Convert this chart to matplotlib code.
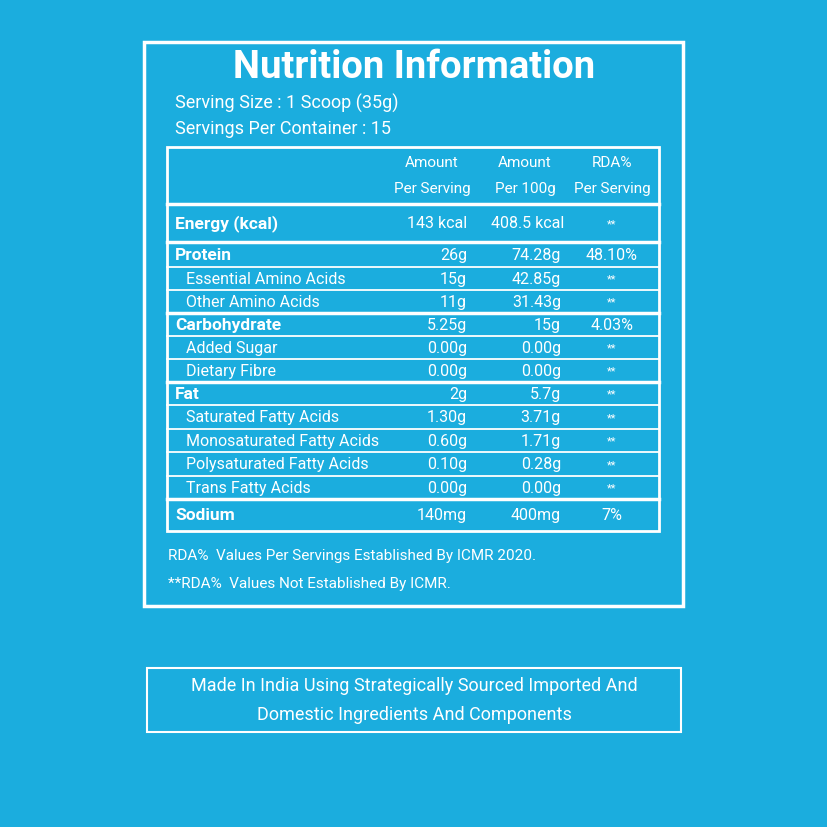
import matplotlib
matplotlib.use("Agg")
import matplotlib.pyplot as plt

BG = "#1badde"
plt.rcParams["font.family"] = ["Liberation Sans Narrow", "Roboto", "DejaVu Sans"]

labels = ["Protein", "Essential Amino Acids", "Other Amino Acids", "Carbohydrate",
          "Added Sugar", "Dietary Fibre", "Fat", "Saturated Fatty Acids",
          "Monosaturated Fatty Acids", "Polysaturated Fatty Acids", "Trans Fatty Acids", "Sodium"]
is_main = [True, False, False, True, False, False, True, False, False, False, False, True]
per_serving = ["26g", "15g", "11g", "5.25g", "0.00g", "0.00g", "2g", "1.30g", "0.60g", "0.10g", "0.00g", "140mg"]
per_100g = ["74.28g", "42.85g", "31.43g", "15g", "0.00g", "0.00g", "5.7g", "3.71g", "1.71g", "0.28g", "0.00g", "400mg"]
rda = ["48.10%", "**", "**", "4.03%", "**", "**", "**", "**", "**", "**", "**", "7%"]
row_edges = [243, 268, 291, 314, 337, 360, 383, 406, 430, 453, 477, 500, 532]

fig = plt.figure(figsize=(8.28, 8.28), dpi=100)
fig.patch.set_facecolor(BG)
ax = fig.add_axes([0, 0, 1, 1])
ax.set_xlim(0, 828)
ax.set_ylim(828, 0)
ax.axis("off")
ax.set_facecolor(BG)

W = "white"
ax.add_patch(plt.Rectangle((144, 43), 539, 564, fill=False, ec=W, lw=2.5))
ax.add_patch(plt.Rectangle((167, 148), 492, 384, fill=False, ec=W, lw=2))
ax.add_patch(plt.Rectangle((147, 669), 534, 64, fill=False, ec=W, lw=1.5))

ax.text(414, 68, "Nutrition Information", color=W, fontsize=27.5, weight="bold", ha="center", va="center")
ax.text(175, 103, "Serving Size : 1 Scoop (35g)", color=W, fontsize=13, ha="left", va="center")
ax.text(175, 129, "Servings Per Container : 15", color=W, fontsize=13, ha="left", va="center")

ax.plot([167, 659], [205, 205], color=W, lw=2.5)
for x, t1, t2 in [(432, "Amount", "Per Serving"), (525, "Amount", "Per 100g"), (612, "RDA%", "Per Serving")]:
    ax.text(x, 163, t1, color=W, fontsize=11, ha="center", va="center")
    ax.text(x, 189, t2, color=W, fontsize=11, ha="center", va="center")

ax.text(175, 224, "Energy (kcal)", color=W, fontsize=12.5, weight="bold", va="center")
ax.text(467, 224, "143 kcal", color=W, fontsize=11.5, ha="right", va="center")
ax.text(564, 224, "408.5 kcal", color=W, fontsize=11.5, ha="right", va="center")
ax.text(612, 224, "**", color=W, fontsize=8, ha="center", va="center")

for i, y in enumerate(row_edges[:-1]):
    main = is_main[i]
    ax.plot([167, 659], [y, y], color=W, lw=2.5 if main else 1.3)
    yc = (y + row_edges[i + 1]) / 2
    ax.text(175 if main else 186, yc, labels[i], color=W, fontsize=12.5 if main else 11.5,
            weight="bold" if main else "normal", va="center")
    ax.text(467, yc, per_serving[i], color=W, fontsize=11.5, ha="right", va="center")
    ax.text(561, yc, per_100g[i], color=W, fontsize=11.5, ha="right", va="center")
    ax.text(612, yc, rda[i], color=W, fontsize=8 if rda[i] == "**" else 11.5, ha="center", va="center")

ax.text(168, 556, "RDA%  Values Per Servings Established By ICMR 2020.", color=W, fontsize=11, va="center")
ax.text(168, 584, "**RDA%  Values Not Established By ICMR.", color=W, fontsize=11, va="center")

ax.text(414, 686, "Made In India Using Strategically Sourced Imported And", color=W, fontsize=13, ha="center", va="center")
ax.text(414, 715, "Domestic Ingredients And Components", color=W, fontsize=13, ha="center", va="center")

fig.savefig("out.png", dpi=100, facecolor=BG)
